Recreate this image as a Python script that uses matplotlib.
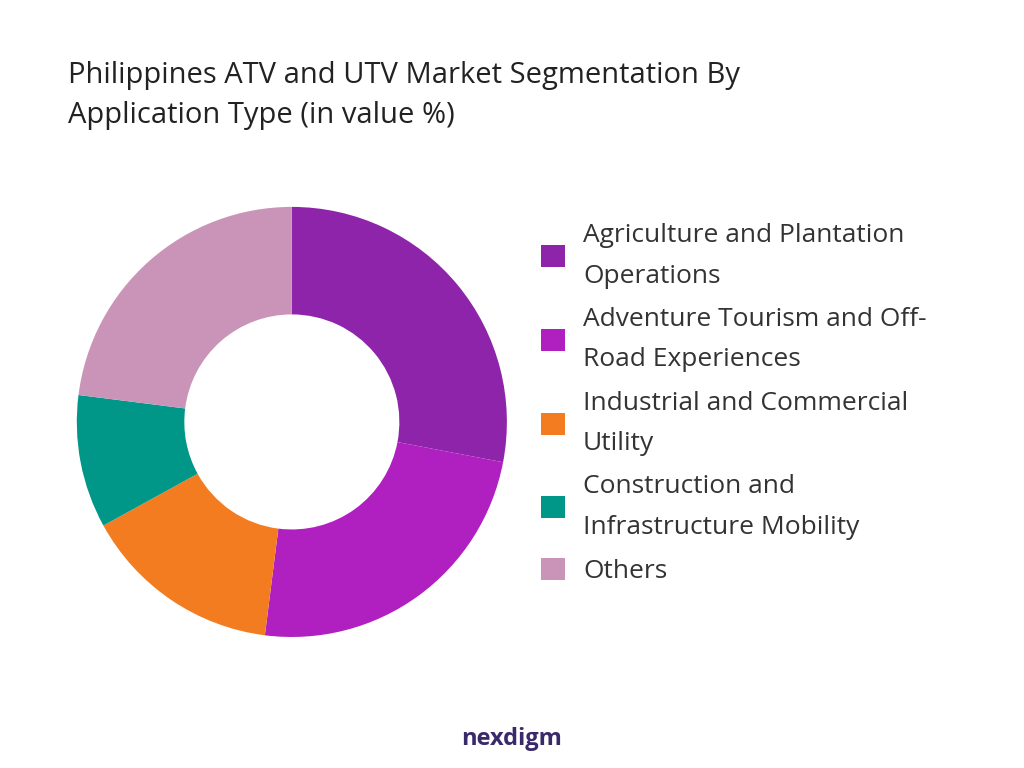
import matplotlib
matplotlib.use("Agg")
import matplotlib.pyplot as plt

categories = ["Agriculture and Plantation\nOperations",
              "Adventure Tourism and Off-\nRoad Experiences",
              "Industrial and Commercial\nUtility",
              "Construction and\nInfrastructure Mobility",
              "Others"]
values = [28, 24, 15, 10, 23]
colors = ["#8E24AA", "#B01FBF", "#F47C20", "#009688", "#C994B7"]

plt.rcParams['font.family'] = ['Open Sans', 'DejaVu Sans']
fig = plt.figure(figsize=(10.24, 7.68), dpi=100)
ax = fig.add_axes([0.075, 0.1706, 0.42, 0.56])
wedges, _ = ax.pie(values, colors=colors, startangle=90, counterclock=False,
                   wedgeprops=dict(width=0.5, linewidth=0))
ax.set_xlim(-1, 1); ax.set_ylim(-1, 1)
ax.set_aspect('equal')
fig.text(0.066, 0.92, "Philippines ATV and UTV Market Segmentation By\nApplication Type (in value %)",
         fontsize=21, va='top', ha='left', color='#222222', linespacing=1.5)
leg = fig.legend(wedges, categories, loc='upper left', bbox_to_anchor=(0.505, 0.74),
                 frameon=False, fontsize=19, handlelength=0.9, handleheight=0.9,
                 labelspacing=0.7, handletextpad=0.7, labelcolor='#333333')
for t in leg.get_texts():
    t.set_linespacing(1.8)
fig.text(0.5, 0.03, "nexdigm", fontsize=17, fontweight='bold', color='#3B2A6B', ha='center')
fig.savefig("out.png", dpi=100)
